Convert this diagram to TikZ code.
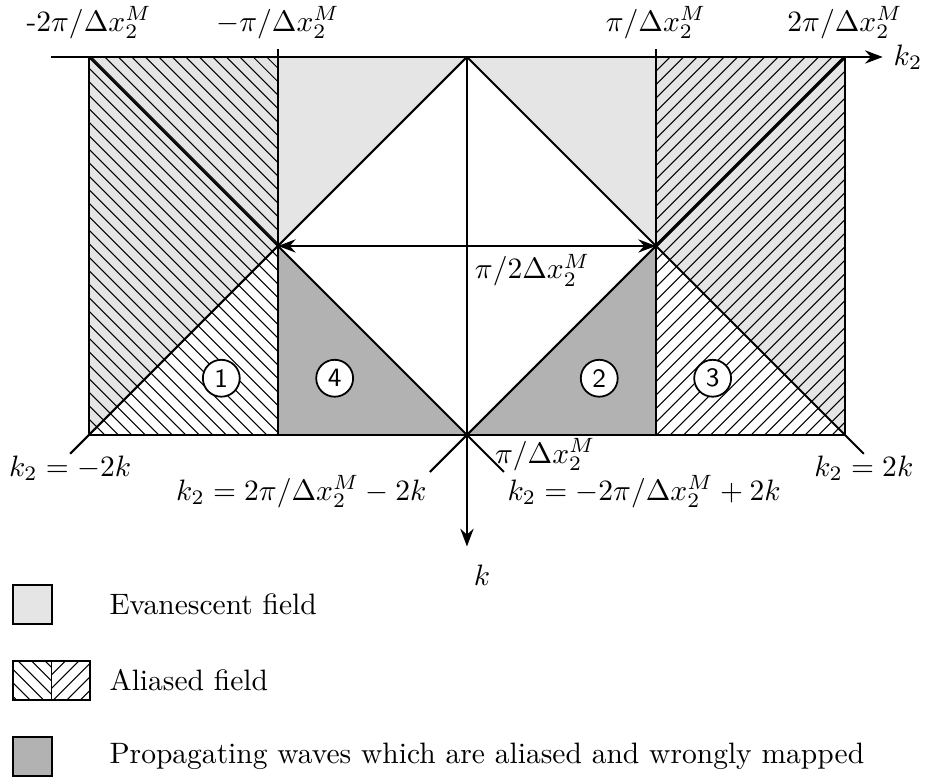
\documentclass[tikz,border=0pt]{standalone}
\usetikzlibrary{arrows.meta}
\tikzset{
  axis/.style={line width=0.8pt},
  edge/.style={line width=0.7pt},
  hatch/.style={line width=0.35pt},
  evan/.style={fill=black!10},
  wrong/.style={fill=black!30},
  num/.style={circle, draw, line width=0.6pt, fill=white, minimum size=12.5pt, inner sep=0pt, font=\sffamily\small},
}
\begin{document}
\begin{tikzpicture}[>={Stealth[length=6pt,width=4.5pt,inset=2pt]}, x=2.25cm, y=2.25cm]
        \useasboundingbox (-2.471,-3.8095) rectangle (2.429,0.3016);

        % 1. Vùng trường tắt dần và vùng bị ánh xạ sai
        \fill[evan] (-2,0) -- (0,0) -- (-2,-2) -- cycle;
        \fill[evan] (2,0) -- (0,0) -- (2,-2) -- cycle;
        \fill[wrong] (-1,-1) -- (-1,-2) -- (0,-2) -- cycle;
        \fill[wrong] (1,-1) -- (1,-2) -- (0,-2) -- cycle;

        % 2. Gạch chéo vùng chồng phổ
        \begin{scope}
            \clip (-2,-2) rectangle (-1,0);
            \foreach \n in {-29,...,15}
                \draw[hatch] ({-3+\n/14+0.012},1) -- ++(4,-4);
        \end{scope}
        \begin{scope}
            \clip (1,-2) rectangle (2,0);
            \foreach \n in {-15,...,29}
                \draw[hatch] ({3+\n/14+0.004},1) -- ++(-4,-4);
        \end{scope}

        % 3. Hệ trục
        \draw[->, axis] (-2.2,0) -- (2.2,0) node[right] (k2) {$k_2$};
        \draw[->, axis] (0,0) -- (0,-2.59);
        \node (k) at (0.08,-2.74) {$k$};

        % 4. Khung và các đường chia
        \draw[edge] (-2,0) -- (-2,-2) -- (2,-2) -- (2,0);
        \draw[edge] (-1,0.04) -- (-1,-2);
        \draw[edge] (1,0.04) -- (1,-2);
        \draw[edge] (0,0) -- (-2.1,-2.1) coordinate (eL);
        \draw[edge] (0,0) -- (2.1,-2.1) coordinate (eR);
        \draw[edge] (-2,0) -- (0.196,-2.196) coordinate (cR);
        \draw[edge] (2,0) -- (-0.196,-2.196) coordinate (cL);
        \draw[line width=1.1pt] (2,0) -- (1,-1);
        \draw[<->, line width=0.55pt] (-1,-1) -- (1,-1);

        % 5. Nhãn
        \node[above] (a1) at (-2,0.04) {-2$\pi/\Delta x_2^M$};
        \node[above] (a2) at (-1,0.04) {$-\pi/\Delta x_2^M$};
        \node[above] (a3) at (1,0.04) {$\pi/\Delta x_2^M$};
        \node[above] (a4) at (2,0.04) {$2\pi/\Delta x_2^M$};
        \node[anchor=north west, inner sep=2.5pt] (half) at (0,-1) {$\pi/2\Delta x_2^M$};
        \node[anchor=north west, inner sep=1pt] (full) at (0.13,-2) {$\pi/\Delta x_2^M$};
        \node[anchor=north, inner sep=0.5pt] (lL) at (eL) {$k_2=-2k$};
        \node[anchor=north, inner sep=0.5pt] (lR) at (eR) {$k_2=2k$};
        \node[anchor=north east, inner sep=1pt] (lcL) at (cL) {$k_2=2\pi/\Delta x_2^M-2k$};
        \node[anchor=north west, inner sep=1pt] (lcR) at (cR) {$k_2=-2\pi/\Delta x_2^M+2k$};

        % 6. Đánh số các vùng
        \node[num] (c1) at (-1.3,-1.7) {1};
        \node[num] (c4) at (-0.7,-1.7) {4};
        \node[num] (c2) at (0.7,-1.7) {2};
        \node[num] (c3) at (1.3,-1.7) {3};

        % 7. Chú thích
        \draw[edge, evan] (-2.402,-2.794) rectangle (-2.196,-3.0);
        \begin{scope}
            \clip (-2.402,-3.196) rectangle (-2.196,-3.402);
            \foreach \n in {-56,...,-45}
                \draw[hatch] ({-5+\n/14},3) -- ++(10,-10);
        \end{scope}
        \begin{scope}
            \clip (-2.196,-3.196) rectangle (-1.995,-3.402);
            \foreach \n in {-16,...,-6}
                \draw[hatch] ({5+\n/14},3) -- ++(-10,-10);
        \end{scope}
        \draw[edge] (-2.402,-3.196) rectangle (-1.995,-3.402);
        \draw[hatch] (-2.196,-3.196) -- (-2.196,-3.402);
        \draw[edge, wrong] (-2.402,-3.598) rectangle (-2.196,-3.804);
        \node[anchor=west, inner sep=0pt] (t1) at (-1.894,-2.897) {Evanescent field};
        \node[anchor=west, inner sep=0pt] (t2) at (-1.894,-3.299) {Aliased field};
        \node[anchor=west, inner sep=0pt] (t3) at (-1.894,-3.701) {Propagating waves which are aliased and wrongly mapped};

\end{tikzpicture}
\end{document}
